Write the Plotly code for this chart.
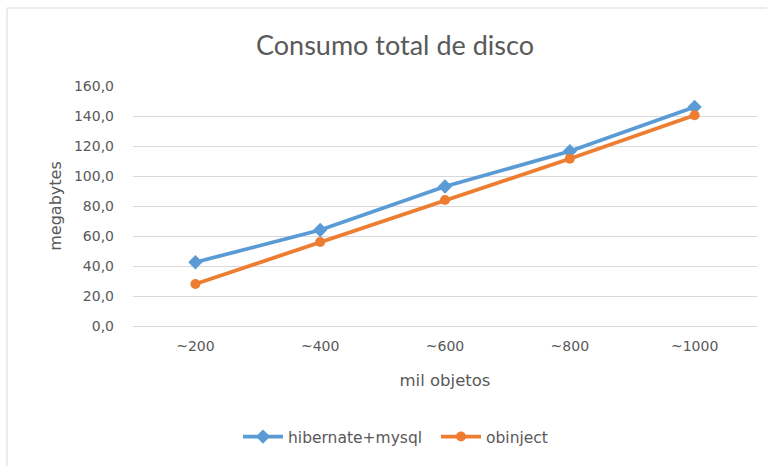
import plotly.graph_objects as go

# Disk usage (MB) per number of stored objects (thousands)
categories = ["~200", "~400", "~600", "~800", "~1000"]
hibernate_mysql = [42.5, 64.0, 93.0, 116.5, 146.0]
obinject = [28.0, 56.0, 84.0, 111.5, 140.5]
y_ticks = [0, 20, 40, 60, 80, 100, 120, 140, 160]

BLUE = "#5b9bd5"
ORANGE = "#ed7d31"
TEXT = "#595959"
GRID = "#d9d9d9"
FONT = "DejaVu Sans, sans-serif"
TITLE_FONT = "Lato, Open Sans, sans-serif"

W, H = 767, 466
L, R, T, B = 133, 10, 86, 140
pw, ph = W - L - R, H - T - B


def px_to_paper_x(x):
    return (x - L) / pw


def px_to_paper_y(y):
    return (H - B - y) / ph


fig = go.Figure()
fig.add_trace(go.Scatter(
    x=categories, y=hibernate_mysql, name="hibernate+mysql",
    mode="lines+markers",
    line=dict(color=BLUE, width=3.8),
    marker=dict(symbol="diamond", size=11, color=BLUE),
))
fig.add_trace(go.Scatter(
    x=categories, y=obinject, name="obinject",
    mode="lines+markers",
    line=dict(color=ORANGE, width=3.8),
    marker=dict(symbol="circle", size=10, color=ORANGE),
))

# Outer chart frame
fig.add_shape(
    type="rect", xref="paper", yref="paper",
    x0=px_to_paper_x(7), x1=px_to_paper_x(W + 20),
    y0=px_to_paper_y(H + 20), y1=px_to_paper_y(8),
    line=dict(color=GRID, width=1), fillcolor="rgba(0,0,0,0)",
    layer="below",
)

fig.update_layout(
    width=W, height=H,
    margin=dict(l=L, r=R, t=T, b=B),
    paper_bgcolor="white", plot_bgcolor="white",
    separators=",.",
    font=dict(family=FONT, color=TEXT, size=14),
    title=dict(
        text="Consumo total de disco",
        font=dict(size=27, color=TEXT, family=TITLE_FONT),
        x=px_to_paper_x(395), xref="paper", xanchor="center",
        y=1 - 46 / H, yref="container", yanchor="middle",
    ),
    xaxis=dict(
        type="category", range=[-0.5, 4.5],
        showgrid=False, showline=False, zeroline=False,
        tickfont=dict(size=14, color=TEXT),
        ticklabelstandoff=10,
        title=dict(text="mil objetos", font=dict(size=16.5, color=TEXT), standoff=21),
    ),
    yaxis=dict(
        range=[0, 160], tickvals=y_ticks, tickformat=".1f",
        showgrid=True, gridcolor=GRID, gridwidth=1.3,
        zeroline=True, zerolinecolor=GRID, zerolinewidth=1.3,
        showline=False,
        tickfont=dict(size=14, color=TEXT),
        ticklabelstandoff=18,
        title=dict(text="megabytes", font=dict(size=16, color=TEXT), standoff=8),
    ),
    legend=dict(
        orientation="h",
        x=px_to_paper_x(436), xanchor="center",
        y=px_to_paper_y(437), yanchor="middle",
        font=dict(size=15.5, color=TEXT),
        itemwidth=40,
        entrywidth=143, entrywidthmode="pixels",
    ),
    showlegend=True,
)

fig.write_html("out.html")
